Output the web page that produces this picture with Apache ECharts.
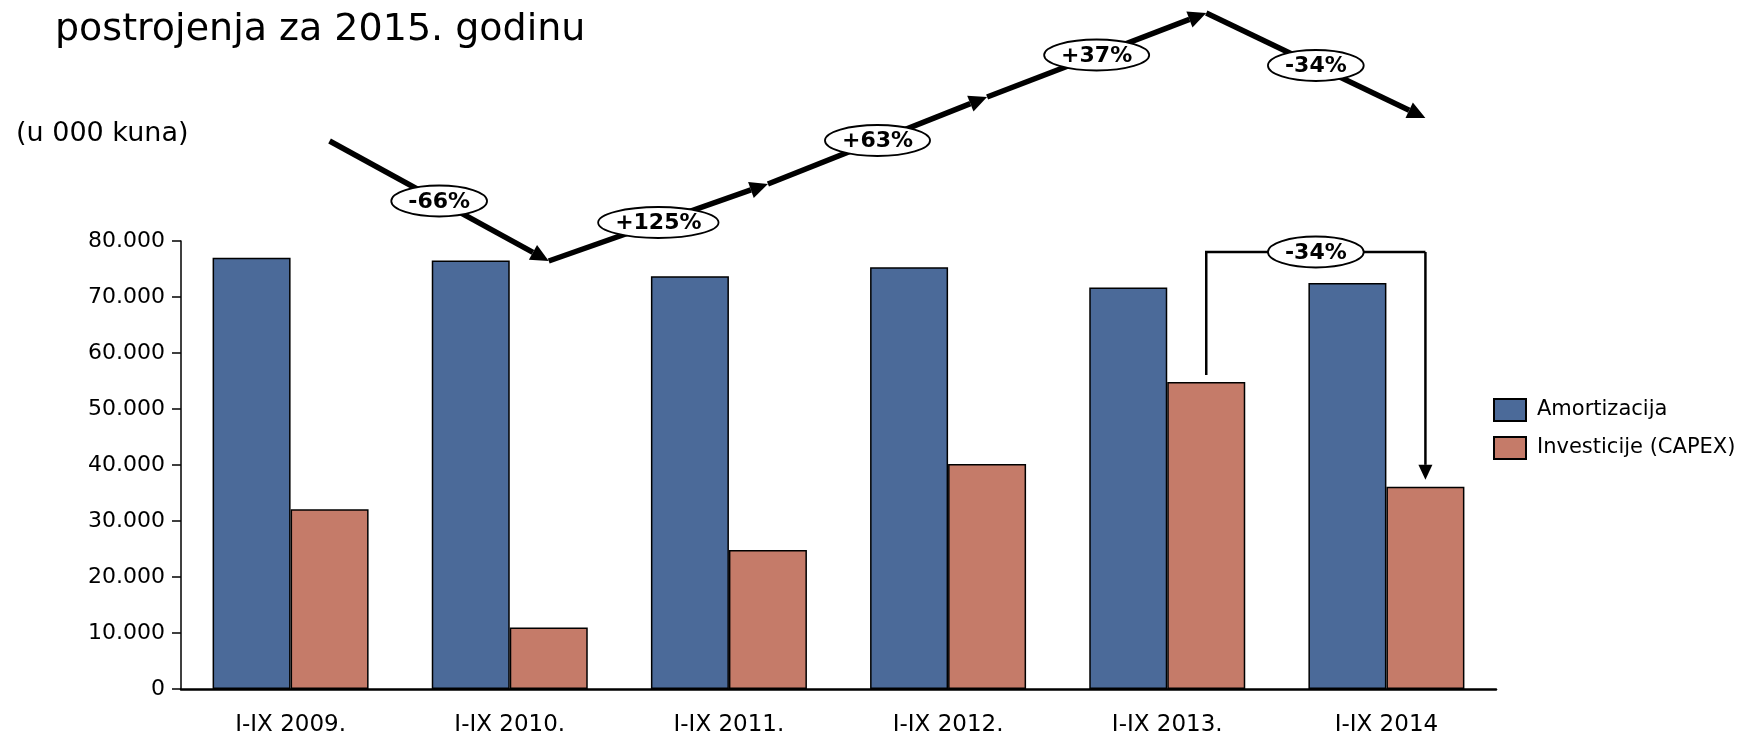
<!DOCTYPE html>
<html>
<head>
<meta charset="utf-8">
<script src="https://cdn.jsdelivr.net/npm/echarts@6.0.0/dist/echarts.min.js"></script>
<style>
  html, body { margin: 0; padding: 0; background: #fff; }
  #chart { width: 1745px; height: 737px; }
</style>
</head>
<body>
<div id="chart"></div>
<script>
// podaci (u 000 kuna)
const categories = ['I-IX 2009.', 'I-IX 2010.', 'I-IX 2011.', 'I-IX 2012.', 'I-IX 2013.', 'I-IX 2014'];
const amortizacija = [77000, 76500, 73700, 75300, 71700, 72500];
const investicije = [32100, 11000, 24800, 40200, 54800, 36100];
const trendLabels = ['-66%', '+125%', '+63%', '+37%', '-34%'];
const bracketLabel = '-34%';

// raspored strelica (pikseli)
const trendY = [141, 261, 184, 97, 13, 118];
const bracketY = 252;
const BAR_W = 78;
const FONT = '"DejaVu Sans", Verdana, sans-serif';

let chart = echarts.init(document.getElementById('chart'));

let option = {
  animation: false,
  title: [
    {
      text: 'postrojenja za 2015. godinu',
      left: 55, top: 11, padding: 0,
      textStyle: { fontFamily: FONT, fontSize: 38, fontWeight: 'normal', color: '#000' }
    },
    {
      text: '(u 000 kuna)',
      left: 16, top: 120, padding: 0,
      textStyle: { fontFamily: FONT, fontSize: 27, fontWeight: 'normal', color: '#000' }
    }
  ],
  legend: {
    orient: 'vertical',
    left: 1493, top: 398,
    icon: 'rect',
    itemWidth: 32, itemHeight: 22, itemGap: 14,
    padding: 0,
    textStyle: { fontFamily: FONT, fontSize: 21, color: '#000', lineHeight: 22, padding: [0, 0, 0, 6] },
    data: ['Amortizacija', 'Investicije (CAPEX)']
  },
  grid: { left: 181, right: 249, top: 241, bottom: 45, containLabel: false },
  xAxis: {
    type: 'category',
    data: categories,
    axisTick: { show: false },
    axisLine: { lineStyle: { color: '#000', width: 2.5 } },
    axisLabel: { fontFamily: FONT, fontSize: 23, color: '#000', margin: 25 }
  },
  yAxis: {
    type: 'value',
    min: 0, max: 80000, interval: 10000,
    splitLine: { show: false },
    axisLine: { show: true, lineStyle: { color: '#000', width: 1.5 } },
    axisTick: { show: true, length: 9, lineStyle: { color: '#000', width: 1.5 } },
    axisLabel: {
      fontFamily: FONT, fontSize: 22, color: '#000', margin: 16,
      formatter: v => v.toString().replace(/\B(?=(\d{3})+(?!\d))/g, '.')
    }
  },
  series: [
    {
      name: 'Amortizacija',
      type: 'bar',
      barWidth: BAR_W,
      barGap: '0%',
      data: amortizacija,
      itemStyle: { color: '#4B6A99', borderColor: '#000', borderWidth: 1.5 }
    },
    {
      name: 'Investicije (CAPEX)',
      type: 'bar',
      barWidth: BAR_W,
      barGap: '0%',
      data: investicije,
      itemStyle: { color: '#C57B69', borderColor: '#000', borderWidth: 1.5 }
    }
  ]
};
chart.setOption(option);

// --- strelice i oznake ---
let ctx = document.createElement('canvas').getContext('2d');
let badgeFont = 'bold 22px ' + FONT;

let arrow = (x1, y1, x2, y2, w, headL, headW) => {
  let a = Math.atan2(y2 - y1, x2 - x1);
  let bx = x2 - headL * Math.cos(a), by = y2 - headL * Math.sin(a);
  let nx = -Math.sin(a), ny = Math.cos(a);
  return [
    { type: 'line', shape: { x1: x1, y1: y1, x2: bx, y2: by }, style: { stroke: '#000', lineWidth: w }, z: 10 },
    { type: 'polygon', shape: { points: [[x2, y2], [bx + nx * headW, by + ny * headW], [bx - nx * headW, by - ny * headW]] }, style: { fill: '#000' }, z: 10 }
  ];
};

let badge = (cx, cy, text) => {
  ctx.font = badgeFont;
  let tw = ctx.measureText(text).width;
  return [
    { type: 'ellipse', shape: { cx: cx, cy: cy, rx: tw / 2 + 17, ry: 15.5 }, style: { fill: '#fff', stroke: '#000', lineWidth: 1.8 }, z: 20 },
    { type: 'text', x: cx, y: cy + 1, style: { text: text, font: badgeFont, fill: '#000', align: 'center', verticalAlign: 'middle', textAlign: 'center', textVerticalAlign: 'middle' }, z: 21 }
  ];
};

let draw = () => {
  let els = [];
  // sredina narančastog stupca
  let xs = categories.map((c, i) => chart.convertToPixel({ xAxisIndex: 0 }, i) + BAR_W / 2);
  for (let i = 0; i < xs.length - 1; i++) {
    els = els.concat(arrow(xs[i], trendY[i], xs[i + 1], trendY[i + 1], 5.5, 18, 8.5));
  }
  for (let i = 0; i < xs.length - 1; i++) {
    els = els.concat(badge((xs[i] + xs[i + 1]) / 2, (trendY[i] + trendY[i + 1]) / 2, trendLabels[i]));
  }
  // zagrada 2013 -> 2014
  let n = investicije.length;
  let xL = xs[n - 2], xR = xs[n - 1];
  let yL = chart.convertToPixel({ yAxisIndex: 0 }, investicije[n - 2]) - 7;
  let yR = chart.convertToPixel({ yAxisIndex: 0 }, investicije[n - 1]) - 7;
  els.push({ type: 'polyline', shape: { points: [[xL, yL], [xL, bracketY], [xR, bracketY]] }, style: { stroke: '#000', lineWidth: 2.5, fill: null }, z: 10 });
  els = els.concat(arrow(xR, bracketY, xR, yR, 2.5, 15, 7));
  els = els.concat(badge((xL + xR) / 2, bracketY, bracketLabel));
  chart.setOption({ graphic: { elements: els } });
};
draw();
</script>
</body>
</html>
